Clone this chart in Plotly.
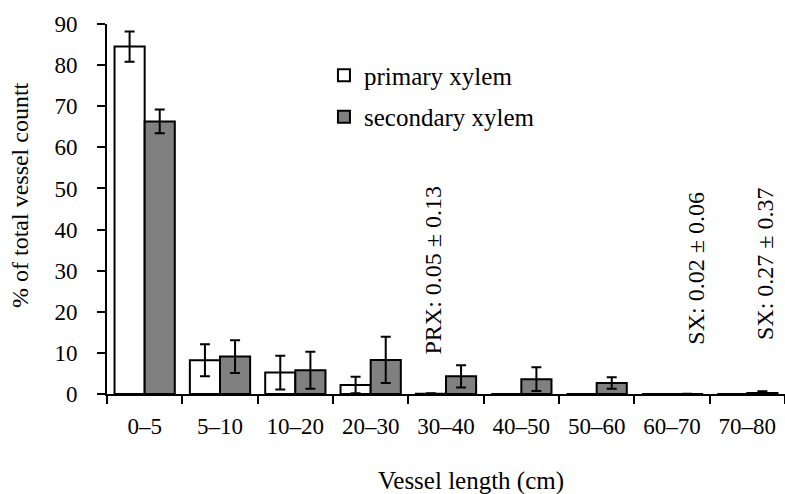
import plotly.graph_objects as go

categories = ["0\u20135", "5\u201310", "10\u201320", "20\u201330", "30\u201340", "40\u201350", "50\u201360", "60\u201370", "70\u201380"]
primary = [84.5, 8.2, 5.2, 2.2, 0.05, 0, 0, 0, 0]
primary_err = [3.7, 3.9, 4.1, 2.0, 0.13, 0, 0, 0, 0]
secondary = [66.3, 9.1, 5.8, 8.3, 4.3, 3.6, 2.7, 0.02, 0.27]
secondary_err = [2.9, 4.0, 4.5, 5.6, 2.7, 2.9, 1.4, 0.06, 0.37]
y_ticks = [0, 10, 20, 30, 40, 50, 60, 70, 80, 90]

FONT = "Liberation Serif"

fig = go.Figure()
fig.add_trace(go.Bar(
    x=categories, y=primary, name="primary xylem", legendgroup="a",
    marker=dict(color="white", line=dict(color="black", width=2)),
    error_y=dict(type="data", array=primary_err, color="black", thickness=2, width=5, visible=True),
))
fig.add_trace(go.Bar(
    x=categories, y=secondary, name="secondary xylem", legendgroup="b",
    marker=dict(color="#808080", line=dict(color="black", width=2)),
    error_y=dict(type="data", array=secondary_err, color="black", thickness=2, width=5, visible=True),
))

notes = [("30\u201340", "PRX: 0.05 \u00b1 0.13", 9.0, -14),
         ("60\u201370", "SX: 0.02 \u00b1 0.06", 11.4, 24),
         ("70\u201380", "SX: 0.27 \u00b1 0.37", 12.6, 17)]
for cat, txt, ybase, xs in notes:
    fig.add_annotation(x=cat, y=ybase, text=txt, textangle=-90, showarrow=False,
                       yanchor="bottom", xshift=xs,
                       font=dict(family=FONT, size=24, color="black"))

plot_w = 785 - 107
plot_h = 494 - 24 - 100

# axis titles placed as annotations (reference titles are offset from plot centre)
fig.add_annotation(x=(471 - 107) / plot_w, y=-(481 - 394) / plot_h, xref="paper", yref="paper",
                   xanchor="center", yanchor="middle",
                   text="Vessel length (cm)", showarrow=False,
                   font=dict(family=FONT, size=25, color="black"))
fig.add_annotation(x=(20 - 107) / plot_w, y=(394 - 195) / plot_h, xref="paper", yref="paper",
                   xanchor="center", yanchor="middle",
                   text="% of total vessel countt", textangle=-90, showarrow=False,
                   font=dict(family=FONT, size=24, color="black"))

fig.update_layout(
    width=785, height=494,
    margin=dict(l=107, r=0, t=24, b=100),
    plot_bgcolor="white", paper_bgcolor="white",
    barmode="group", bargap=0.2, bargroupgap=0,
    font=dict(family=FONT, size=22, color="black"),
    showlegend=True,
    legend=dict(x=0.32, y=0.923, xanchor="left", yanchor="top", bgcolor="rgba(0,0,0,0)",
                font=dict(family=FONT, size=25), tracegroupgap=6, itemwidth=30),
    xaxis=dict(
        showline=True, linecolor="black", linewidth=2, ticks="outside", tickson="boundaries",
        ticklen=8, tickwidth=2, tickcolor="black", tickfont=dict(size=23), automargin=False,
        ticklabelstandoff=10,
    ),
    yaxis=dict(
        range=[0, 90], tickvals=y_ticks, showline=True, linecolor="black", linewidth=2,
        ticks="outside", ticklen=8, tickwidth=2, tickcolor="black", showgrid=False,
        zeroline=False, tickfont=dict(size=23), automargin=False, ticklabelstandoff=15,
    ),
)

fig.write_html("out.html")
